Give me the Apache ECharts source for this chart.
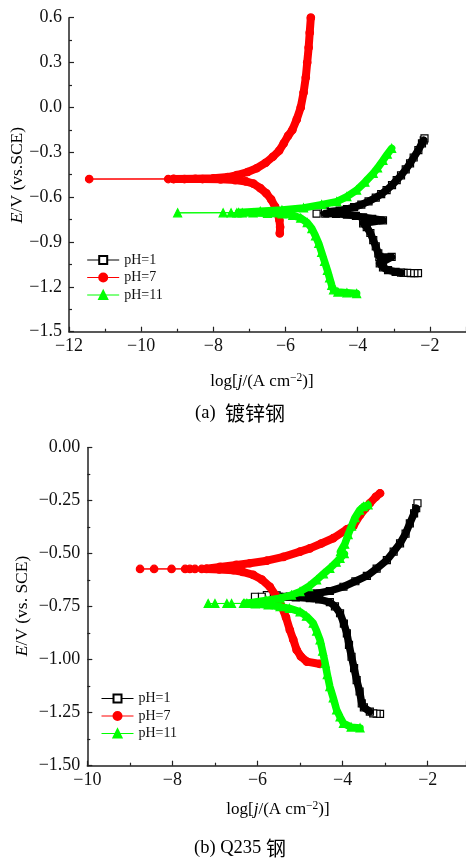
<!DOCTYPE html>
<html><head><meta charset="utf-8">
<script src="https://cdn.jsdelivr.net/npm/echarts@6/dist/echarts.min.js"></script>
<style>html,body{margin:0;padding:0;background:#fff}#c{width:466px;height:858px}</style>
</head><body><div id="c"></div>
<script>
// ---- (a) galvanized steel: [log j, E] ----
const a_ph1_tail = [[-2.33,-1.108],[-2.43,-1.108],[-2.53,-1.108],[-2.63,-1.107],[-2.73,-1.106]];
const a_ph1_cath = [[-2.8,-1.105],[-2.95,-1.1],[-3.16,-1.088],[-3.3,-1.07],[-3.39,-1.043],[-3.06,-1.0],[-3.4,-1.0],[-3.43,-0.976],[-3.5,-0.93],[-3.57,-0.887],[-3.65,-0.84],[-3.75,-0.8],[-3.85,-0.775],[-3.3,-0.755],[-3.6,-0.745],[-3.85,-0.735],[-4.05,-0.725],[-4.3,-0.717],[-4.6,-0.712],[-4.9,-0.71]];
const a_ph1_tip = [[-5.14,-0.71],[-4.91,-0.695]];
const a_ph1_anod = [[-4.75,-0.698],[-4.5,-0.69],[-4.3,-0.68],[-4.1,-0.667],[-3.9,-0.65],[-3.7,-0.628],[-3.5,-0.603],[-3.35,-0.58],[-3.2,-0.553],[-3.05,-0.52],[-2.92,-0.486],[-2.8,-0.455],[-2.67,-0.415],[-2.55,-0.374],[-2.45,-0.335],[-2.32,-0.285],[-2.22,-0.24],[-2.17,-0.22],[-2.15,-0.207]];

const a_ph7_tail = [];
const a_ph7_cath = [[-6.16,-0.842],[-6.15,-0.8],[-6.17,-0.753],[-6.22,-0.71],[-6.29,-0.664],[-6.4,-0.615],[-6.53,-0.575],[-6.7,-0.54],[-6.89,-0.51],[-7.1,-0.495],[-7.4,-0.486],[-7.8,-0.481],[-8.3,-0.479],[-8.8,-0.479],[-9.1,-0.479]];
const a_ph7_tip = [[-9.25,-0.479],[-11.44,-0.479]];
const a_ph7_anod = [[-9.1,-0.478],[-8.5,-0.477],[-8.0,-0.474],[-7.6,-0.466],[-7.35,-0.453],[-7.05,-0.432],[-6.8,-0.407],[-6.55,-0.37],[-6.35,-0.33],[-6.18,-0.29],[-6.05,-0.24],[-5.93,-0.19],[-5.81,-0.15],[-5.69,-0.08],[-5.58,0.0],[-5.5,0.1],[-5.44,0.2],[-5.4,0.3],[-5.36,0.4],[-5.33,0.5],[-5.3,0.6]];

const a_ph11_tail = [];
const a_ph11_cath = [[-4.03,-1.245],[-4.3,-1.24],[-4.55,-1.235],[-4.67,-1.22],[-4.72,-1.19],[-4.78,-1.14],[-4.84,-1.09],[-4.92,-1.03],[-5.0,-0.97],[-5.08,-0.91],[-5.17,-0.86],[-5.27,-0.81],[-5.4,-0.77],[-5.58,-0.74],[-5.8,-0.722],[-6.1,-0.713],[-6.5,-0.708],[-6.9,-0.706],[-7.2,-0.705]];
const a_ph11_tip = [[-7.35,-0.705],[-7.51,-0.705],[-7.73,-0.705],[-8.99,-0.705]];
const a_ph11_anod = [[-7.3,-0.703],[-6.7,-0.695],[-6.1,-0.686],[-5.5,-0.672],[-5.0,-0.65],[-4.58,-0.63],[-4.3,-0.597],[-4.03,-0.553],[-3.8,-0.5],[-3.57,-0.441],[-3.45,-0.405],[-3.3,-0.355],[-3.18,-0.313],[-3.06,-0.274]];

// ---- (b) Q235 steel ----
const b_ph1_tail = [[-3.12,-1.256],[-3.2,-1.255],[-3.28,-1.253]];
const b_ph1_cath = [[-3.36,-1.245],[-3.5,-1.225],[-3.55,-1.206],[-3.6,-1.15],[-3.67,-1.096],[-3.73,-1.04],[-3.79,-0.986],[-3.85,-0.93],[-3.9,-0.876],[-3.97,-0.83],[-4.06,-0.781],[-4.18,-0.748],[-4.3,-0.728],[-4.55,-0.715],[-4.77,-0.71],[-5.1,-0.706],[-5.4,-0.703]];
const b_ph1_tip = [[-5.55,-0.697],[-5.67,-0.697],[-5.78,-0.695],[-5.9,-0.703],[-6.06,-0.703]];
const b_ph1_anod = [[-5.5,-0.703],[-5.24,-0.702],[-4.9,-0.695],[-4.61,-0.687],[-4.3,-0.676],[-3.98,-0.656],[-3.7,-0.63],[-3.43,-0.605],[-3.2,-0.57],[-2.96,-0.53],[-2.8,-0.49],[-2.65,-0.451],[-2.52,-0.405],[-2.42,-0.357],[-2.32,-0.31],[-2.27,-0.285],[-2.24,-0.262]];

const b_ph7_tail = [];
const b_ph7_cath = [[-4.53,-1.02],[-4.84,-1.009],[-4.98,-0.985],[-5.08,-0.954],[-5.16,-0.905],[-5.24,-0.86],[-5.33,-0.8],[-5.43,-0.75],[-5.55,-0.703],[-5.71,-0.656],[-5.9,-0.622],[-6.1,-0.6],[-6.35,-0.586],[-6.57,-0.578],[-6.9,-0.574],[-7.2,-0.572]];
const b_ph7_tip = [[-7.31,-0.572],[-7.47,-0.572],[-7.59,-0.572],[-7.7,-0.572],[-8.02,-0.572],[-8.43,-0.572],[-8.76,-0.572]];
const b_ph7_anod = [[-7.2,-0.571],[-6.88,-0.562],[-6.5,-0.553],[-6.18,-0.545],[-5.78,-0.533],[-5.39,-0.515],[-5.0,-0.49],[-4.77,-0.475],[-4.5,-0.452],[-4.22,-0.427],[-3.9,-0.385],[-3.75,-0.37],[-3.59,-0.317],[-3.46,-0.285],[-3.36,-0.262],[-3.22,-0.232],[-3.12,-0.215]];

const b_ph11_tail = [];
const b_ph11_cath = [[-3.59,-1.322],[-3.8,-1.318],[-3.98,-1.3],[-4.06,-1.27],[-4.14,-1.237],[-4.22,-1.18],[-4.3,-1.127],[-4.36,-1.07],[-4.41,-1.017],[-4.47,-0.96],[-4.53,-0.907],[-4.61,-0.865],[-4.69,-0.828],[-4.85,-0.795],[-5.0,-0.774],[-5.25,-0.758],[-5.47,-0.75],[-5.75,-0.742],[-6.05,-0.737],[-6.3,-0.735]];
const b_ph11_tip = [[-6.33,-0.735],[-6.61,-0.735],[-6.72,-0.735],[-7.0,-0.735],[-7.16,-0.735]];
const b_ph11_anod = [[-6.25,-0.734],[-5.8,-0.72],[-5.47,-0.71],[-5.2,-0.695],[-5.0,-0.679],[-4.8,-0.655],[-4.61,-0.624],[-4.45,-0.595],[-4.3,-0.569],[-4.15,-0.54],[-4.06,-0.522],[-3.96,-0.5],[-4.05,-0.49],[-3.95,-0.455],[-3.87,-0.41],[-3.79,-0.37],[-3.71,-0.33],[-3.6,-0.295],[-3.51,-0.278],[-3.4,-0.27]];

const seriesNames = ['pH=1','pH=7','pH=11'];
const xTicksA = [-12, -1, 2];   // min, max, interval
const yTicksA = [-1.5, 0.6, 0.3];
const xTicksB = [-10, -1.1, 2];
const yTicksB = [-1.5, 0, 0.25];

const FONT = "'Liberation Serif','Times New Roman','Noto Sans CJK SC',serif";
const styles = {
  'pH=1':  {color:'#000', symbol:'rect', size:7, fill:'#fff', band:'#000', bandW:7.5, zm:2, zb:2.5, trimEnd:true},
  'pH=7':  {color:'#ff0000', symbol:'circle', size:7.5, fill:'#ff0000', band:'#ff0000', bandW:8, zm:3.2, zb:3, trimEnd:false},
  'pH=11': {color:'#00ff00', symbol:'triangle', size:8, fill:'#00ff00', band:'#00ff00', bandW:7.5, zm:3.7, zb:3.5, trimEnd:false}
};
const minus = s => s.replace('-', '\u2212');

function curveSeries(name, gi, tail, cath, tip, anod){
  const st = styles[name];
  const out = [];
  const anodBand = st.trimEnd ? anod.slice(0, -1) : anod;
  [cath, anodBand].forEach(br => out.push({
    type:'line', xAxisIndex:gi, yAxisIndex:gi, data:br, showSymbol:false, symbol:'none',
    lineStyle:{color:st.band, width:st.bandW, cap:'round', join:'round'}, silent:true, z:st.zb,
    animation:false, legendHoverLink:false, tooltip:{show:false}
  }));
  out.push({
    type:'line', name:name, xAxisIndex:gi, yAxisIndex:gi, data:tail.concat(cath, tip, anod),
    symbol:st.symbol, symbolSize:st.size, showSymbol:true, showAllSymbol:true,
    itemStyle:{color:st.fill, borderColor:st.color, borderWidth:1.2},
    lineStyle:{color:st.color, width:1}, z:st.zm, animation:false
  });
  return out;
}

function xAxis(gi, t){
  return {type:'value', gridIndex:gi, min:t[0], max:t[1], interval:t[2],
    axisLine:{show:true, onZero:false, lineStyle:{color:'#222', width:1.5}},
    axisTick:{show:true, inside:true, length:5, lineStyle:{color:'#222', width:1.2}},
    minorTick:{show:true, splitNumber:2, length:3, lineStyle:{color:'#222', width:1.2}},
    splitLine:{show:false},
    axisLabel:{color:'#111', fontSize:18, fontFamily:FONT, margin:6, showMaxLabel:false,
      formatter:v=>minus(String(Math.round(v)))}};
}
function yAxis(gi, t, dec){
  return {type:'value', gridIndex:gi, min:t[0], max:t[1], interval:t[2],
    axisLine:{show:true, onZero:false, lineStyle:{color:'#222', width:1.5}},
    axisTick:{show:true, inside:true, length:5, lineStyle:{color:'#222', width:1.2}},
    minorTick:{show:true, splitNumber:2, length:3, lineStyle:{color:'#222', width:1.2}},
    splitLine:{show:false},
    axisLabel:{color:'#111', fontSize:18, fontFamily:FONT, margin:7,
      formatter:v=>{ if (Math.abs(v)<1e-9) v=0; return minus(v.toFixed(dec)); }}};
}
function legend(left, top){
  return {data:seriesNames,
    orient:'vertical', left:left, top:top, padding:0,
    itemWidth:32, itemHeight:10, itemGap:3.5, selectedMode:false,
    lineStyle:{width:1},
    textStyle:{fontFamily:FONT, fontSize:14, color:'#111', lineHeight:14}};
}
const rich = {
  n:{fontFamily:FONT, fontSize:17, color:'#111', lineHeight:20},
  i:{fontFamily:FONT, fontSize:17, color:'#111', fontStyle:'italic', lineHeight:20},
  s:{fontFamily:FONT, fontSize:11.5, color:'#111', lineHeight:12, verticalAlign:'top'},
  ny:{fontFamily:FONT, fontSize:17.5, color:'#111', lineHeight:20},
  iy:{fontFamily:FONT, fontSize:17.5, color:'#111', fontStyle:'italic', lineHeight:20},
  c:{fontFamily:"'Noto Sans CJK SC',sans-serif", fontSize:20, color:'#111', lineHeight:24},
  cn:{fontFamily:FONT, fontSize:18.5, color:'#111', lineHeight:24}
};
function txt(x, y, text, rot){
  return {type:'text', x:x, y:y, rotation:rot||0, silent:true,
    style:{text:text, rich:rich, align:'center', verticalAlign:'middle'}};
}

const chart = echarts.init(document.getElementById('c'), null, {renderer:'canvas'});
chart.setOption({
  animation:false,
  backgroundColor:'#fff',
  grid:[
    {left:69, top:17.7, width:397, height:314, containLabel:false, outerBoundsMode:'none'},
    {left:87.3, top:447.7, width:378.7, height:318, containLabel:false, outerBoundsMode:'none'}
  ],
  xAxis:[xAxis(0, xTicksA), xAxis(1, xTicksB)],
  yAxis:[yAxis(0, yTicksA, 1), yAxis(1, yTicksB, 2)],
  legend:[legend(86.7, 253), legend(101, 691.5)],
  series:[].concat(
    curveSeries('pH=1', 0, a_ph1_tail, a_ph1_cath, a_ph1_tip, a_ph1_anod),
    curveSeries('pH=7', 0, a_ph7_tail, a_ph7_cath, a_ph7_tip, a_ph7_anod),
    curveSeries('pH=11', 0, a_ph11_tail, a_ph11_cath, a_ph11_tip, a_ph11_anod),
    curveSeries('pH=1', 1, b_ph1_tail, b_ph1_cath, b_ph1_tip, b_ph1_anod),
    curveSeries('pH=7', 1, b_ph7_tail, b_ph7_cath, b_ph7_tip, b_ph7_anod),
    curveSeries('pH=11', 1, b_ph11_tail, b_ph11_cath, b_ph11_tip, b_ph11_anod)
  ),
  graphic:[
    txt(17, 175, '{iy|E}{ny|/V (vs.SCE)}', Math.PI/2),
    txt(262, 382, '{n|log[}{i|j}{n|/(A cm}{s|\u22122}{n|)]}'),
    txt(240, 413, '{cn|(a)  }{c|镀锌钢}'),
    txt(22, 606, '{iy|E}{ny|/V (vs. SCE)}', Math.PI/2),
    txt(278, 810, '{n|log[}{i|j}{n|/(A cm}{s|\u22122}{n|)]}'),
    txt(240, 848, '{cn|(b) Q235 }{c|钢}')
  ]
});
</script></body></html>
